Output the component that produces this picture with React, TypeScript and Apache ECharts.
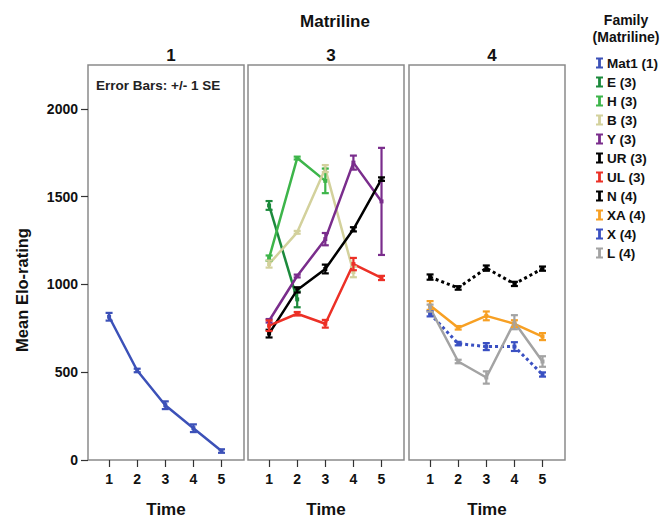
import React, { useEffect, useRef } from "react";
import * as echarts from "echarts";

// ---- data ----
const times = [1, 2, 3, 4, 5];
const yTicks = [0, 500, 1000, 1500, 2000];

// Matriline 1
const mat1Mean = [816, 510, 312, 181, 51];
const mat1SE = [22, 10, 22, 22, 10];
// Matriline 3
const eMean = [1450, 915];
const eSE = [25, 45];
const hMean = [1150, 1720, 1590];
const hSE = [15, 8, 70];
const bMean = [1116, 1297, 1660, 1071];
const bSE = [20, 8, 20, 30];
const yMean = [793, 1048, 1258, 1694, 1473];
const ySE = [10, 8, 35, 40, 305];
const urMean = [720, 969, 1088, 1314, 1600];
const urSE = [22, 15, 25, 12, 10];
const ulMean = [765, 833, 776, 1116, 1037];
const ulSE = [30, 10, 22, 35, 12];
// Matriline 4
const nMean = [1042, 980, 1093, 1003, 1090];
const nSE = [15, 10, 15, 12, 12];
const xaMean = [880, 753, 821, 776, 703];
const xaSE = [25, 10, 25, 20, 20];
const xMean = [833, 663, 646, 646, 487];
const xSE = [15, 10, 20, 25, 12];
const lMean = [865, 561, 470, 785, 561];
const lSE = [20, 10, 35, 40, 30];

type Fam = { name: string; panel: number; mean: number[]; se: number[]; color: string; dotted?: boolean };
const families: Fam[] = [
  { name: "Mat1 (1)", panel: 0, mean: mat1Mean, se: mat1SE, color: "#3c51b8" },
  { name: "E (3)", panel: 1, mean: eMean, se: eSE, color: "#1c8a3c" },
  { name: "H (3)", panel: 1, mean: hMean, se: hSE, color: "#3db54a" },
  { name: "B (3)", panel: 1, mean: bMean, se: bSE, color: "#d3d19c" },
  { name: "Y (3)", panel: 1, mean: yMean, se: ySE, color: "#7a2d8c" },
  { name: "UR (3)", panel: 1, mean: urMean, se: urSE, color: "#000000" },
  { name: "UL (3)", panel: 1, mean: ulMean, se: ulSE, color: "#ec3026" },
  { name: "N (4)", panel: 2, mean: nMean, se: nSE, color: "#000000", dotted: true },
  { name: "XA (4)", panel: 2, mean: xaMean, se: xaSE, color: "#f7a024" },
  { name: "X (4)", panel: 2, mean: xMean, se: xSE, color: "#3a50c2", dotted: true },
  { name: "L (4)", panel: 2, mean: lMean, se: lSE, color: "#a3a3a3" },
];
const panelLabels = ["1", "3", "4"];

const FONT = "Liberation Sans, Arial, Helvetica, sans-serif";
const IBAR = "path://M0,0 H10 V3 H7 V13 H10 V16 H0 V13 H3 V3 H0 Z";

export default function App() {
  const ref = useRef<HTMLDivElement>(null);
  useEffect(() => {
    document.body.style.margin = "0";
    const chart = echarts.init(ref.current!, undefined, { renderer: "svg" });
    const lefts = [88, 248, 409];
    const grids = lefts.map((l) => ({
      left: l, width: 156, top: 65, height: 397, show: true,
      borderColor: "#8a8a8a", borderWidth: 1.5, backgroundColor: "#fff",
    }));
    const xAxes = lefts.map((_, i) => ({
      type: "value", gridIndex: i, min: 0.25, max: 5.8,
      name: "Time", nameLocation: "middle", nameGap: 41,
      nameTextStyle: { fontFamily: FONT, fontWeight: "bold", fontSize: 17, color: "#111" },
      axisLine: { show: false }, splitLine: { show: false },
      axisTick: { show: true, length: 7, customValues: times, lineStyle: { color: "#333", width: 1.2 } },
      axisLabel: { customValues: times, margin: 12, fontFamily: FONT, fontWeight: "bold", fontSize: 14, color: "#111" },
    }));
    const yAxes = lefts.map((_, i) => ({
      type: "value", gridIndex: i, min: 0, max: 2250,
      show: i === 0,
      axisLine: { show: false }, splitLine: { show: false },
      axisTick: { show: true, length: 7, customValues: yTicks, lineStyle: { color: "#333", width: 1.2 } },
      axisLabel: {
        customValues: yTicks, margin: 10, fontFamily: FONT, fontWeight: "bold", fontSize: 14, color: "#111",
        formatter: (v: number) => String(v),
      },
    }));
    const series: any[] = [];
    families.forEach((f) => {
      series.push({
        type: "line", name: f.name, xAxisIndex: f.panel, yAxisIndex: f.panel,
        data: f.mean.map((v, i) => [times[i], v]),
        symbol: "rect", symbolSize: 4, z: 3,
        itemStyle: { color: f.color },
        lineStyle: { color: f.color, width: f.dotted ? 3 : 2.5, type: f.dotted ? "dotted" : "solid" },
      });
    });
    families.forEach((f) => {
      series.push({
        type: "custom", name: f.name, xAxisIndex: f.panel, yAxisIndex: f.panel, z: 4,
        itemStyle: { color: f.color },
        data: f.mean.map((v, i) => [times[i], v - f.se[i], v + f.se[i]]),
        renderItem: (params: any, api: any) => {
          const x = api.value(0);
          const p1 = api.coord([x, api.value(2)]);
          const p2 = api.coord([x, api.value(1)]);
          const w = 3.5;
          const st = { stroke: f.color, lineWidth: 2.2 };
          return {
            type: "group",
            children: [
              { type: "line", shape: { x1: p1[0], y1: p1[1], x2: p2[0], y2: p2[1] }, style: st },
              { type: "line", shape: { x1: p1[0] - w, y1: p1[1], x2: p1[0] + w, y2: p1[1] }, style: st },
              { type: "line", shape: { x1: p2[0] - w, y1: p2[1], x2: p2[0] + w, y2: p2[1] }, style: st },
            ],
          };
        },
      });
    });
    const ts = { fontFamily: FONT, fontWeight: "bold", fontSize: 17, color: "#111" };
    chart.setOption({
      animation: false,
      backgroundColor: "#fff",
      title: [
        { text: "Matriline", left: 330, top: 8, textAlign: "center", textStyle: ts },
        ...panelLabels.map((p, i) => ({ text: p, left: lefts[i] + 78, top: 42, textAlign: "center", textStyle: ts })),
        { text: "Family\n(Matriline)", left: 621, top: 6, textAlign: "center", textStyle: { ...ts, fontSize: 14, lineHeight: 17 } },
      ],
      grid: grids,
      xAxis: xAxes,
      yAxis: yAxes,
      legend: {
        orient: "vertical", left: 591, top: 51, itemWidth: 7, itemHeight: 13, itemGap: 5,
        textStyle: { fontFamily: FONT, fontWeight: "bold", fontSize: 13.5, lineHeight: 13, color: "#111", padding: [0, 0, 0, -1] },
        data: families.map((f) => ({ name: f.name, icon: IBAR })),
        selectedMode: false,
      },
      graphic: [
        { type: "text", left: 96, top: 78, style: { text: "Error Bars: +/- 1 SE", fontFamily: FONT, fontWeight: "bold", fontSize: 13.5, fill: "#222" } },
        { type: "text", x: 22, y: 290, rotation: Math.PI / 2, style: { text: "Mean Elo-rating", fontFamily: FONT, fontWeight: "bold", fontSize: 16.5, fill: "#111", align: "center", verticalAlign: "middle" } },
      ],
      series,
    });
    return () => chart.dispose();
  }, []);
  return <div ref={ref} style={{ width: 663, height: 523 }} />;
}
